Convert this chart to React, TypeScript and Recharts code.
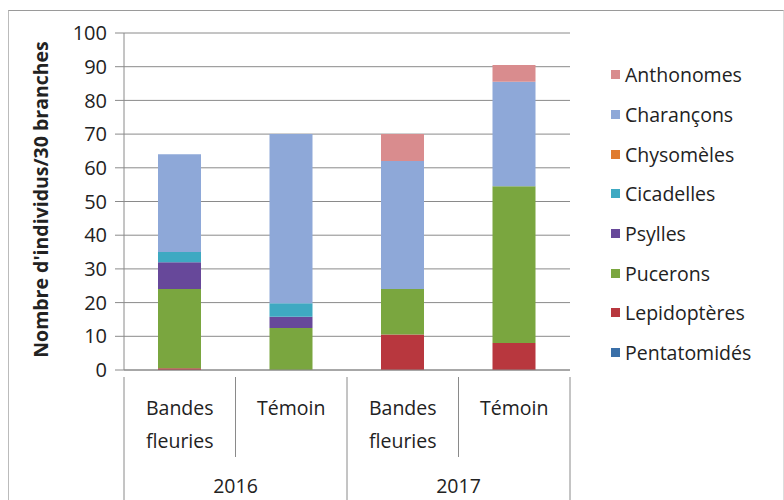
import { BarChart, Bar, XAxis, YAxis, CartesianGrid } from "recharts"

const conditions = ["Bandes\nfleuries", "Témoin", "Bandes\nfleuries", "Témoin"]
const years = ["2016", "2016", "2017", "2017"]

const pentatomides = [0, 0, 0, 0]
const lepidopteres = [0.5, 0, 10.5, 8]
const pucerons = [23.5, 12.5, 13.5, 46.5]
const psylles = [8, 3.3, 0, 0]
const cicadelles = [3, 4, 0, 0]
const chysomeles = [0, 0, 0, 0]
const charancons = [29, 50.2, 38, 31]
const anthonomes = [0, 0, 8, 5]

const yTicks = [0, 10, 20, 30, 40, 50, 60, 70, 80, 90, 100]

const series = [
  { key: "Pentatomidés", values: pentatomides, color: "#3a6fa8" },
  { key: "Lepidoptères", values: lepidopteres, color: "#b8373e" },
  { key: "Pucerons", values: pucerons, color: "#7aa63f" },
  { key: "Psylles", values: psylles, color: "#67489a" },
  { key: "Cicadelles", values: cicadelles, color: "#3ea9c2" },
  { key: "Chysomèles", values: chysomeles, color: "#e07b2e" },
  { key: "Charançons", values: charancons, color: "#8ea8d8" },
  { key: "Anthonomes", values: anthonomes, color: "#d98c8e" },
]

const data = conditions.map((c, i) => {
  const row: Record<string, string | number> = { cond: c, year: years[i], idx: i }
  series.forEach((s) => (row[s.key] = s.values[i]))
  return row
})

const FONT = "'Open Sans', 'Noto Sans', sans-serif"
const PLOT_LEFT = 124
const PLOT_RIGHT = 570
const BAND = (PLOT_RIGHT - PLOT_LEFT) / conditions.length

function CategoryTick(props: any) {
  const { x, y, payload, index } = props
  const lines = String(conditions[index] ?? payload.value).split("\n")
  const left = x - BAND / 2
  const right = x + BAND / 2
  const endOfGroup = index === conditions.length - 1 || years[index + 1] !== years[index]
  const top = y - 1
  return (
    <g>
      {index === 0 && <line x1={left} y1={top} x2={left} y2={top + 127} stroke="#8a8a8a" />}
      <line x1={right} y1={top} x2={right} y2={top + (endOfGroup ? 127 : 80)} stroke="#8a8a8a" />
      {lines.map((l, k) => (
        <text key={k} x={x} y={top + 38 + k * 33} textAnchor="middle" fontSize={19.5} fill="#222" fontFamily={FONT}>
          {l}
        </text>
      ))}
      {endOfGroup && (
        <text x={index % 2 === 1 ? left : x} y={top + 116} textAnchor="middle" fontSize={19.5} fill="#222" fontFamily={FONT}>
          {years[index]}
        </text>
      )}
    </g>
  )
}

function LegendBox() {
  const items = [...series].reverse()
  return (
    <div style={{ position: "absolute", left: 611, top: 55, width: 172 }}>
      {items.map((it) => (
        <div key={it.key} style={{ display: "flex", alignItems: "center", height: 39.7, fontFamily: FONT, fontSize: 19.5, color: "#222", whiteSpace: "nowrap" }}>
          <span style={{ width: 9, height: 9, background: it.color, marginRight: 5, display: "inline-block" }} />
          {it.key}
        </div>
      ))}
    </div>
  )
}

export default function App() {
  return (
    <div style={{ position: "absolute", left: 0, top: 0, width: 784, height: 500, background: "#fff" }}>
      <div style={{ position: "absolute", left: 8, top: 10, width: 774, height: 490, borderTop: "1px solid #9a9a9a", borderLeft: "1px solid #bbb", borderRight: "1px solid #ddd" }} />
      <BarChart width={784} height={500} data={data} margin={{ top: 33, right: 784 - PLOT_RIGHT, bottom: 5, left: 44 }} barSize={43}>
        <CartesianGrid vertical={false} stroke="#8a8a8a" strokeWidth={1} />
        <XAxis dataKey="cond" height={125} interval={0} tickLine={false} axisLine={{ stroke: "#8a8a8a" }} tick={<CategoryTick />} />
        <YAxis
          width={80}
          domain={[0, 100]}
          ticks={yTicks}
          interval={0}
          tickSize={9}
          tickMargin={8}
          axisLine={{ stroke: "#8a8a8a" }}
          tickLine={{ stroke: "#8a8a8a" }}
          tick={{ fontSize: 20, fill: "#222", fontFamily: FONT }}
          label={{
            value: "Nombre d'individus/30 branches",
            angle: -90,
            position: "insideLeft",
            dx: -8,
            dy: -2,
            style: { textAnchor: "middle", fontSize: 19.5, fontWeight: 700, fill: "#222", fontFamily: FONT },
          }}
        />
        {series.map((s) => (
          <Bar key={s.key} dataKey={s.key} stackId="a" fill={s.color} isAnimationActive={false} />
        ))}
      </BarChart>
      <LegendBox />
    </div>
  )
}
